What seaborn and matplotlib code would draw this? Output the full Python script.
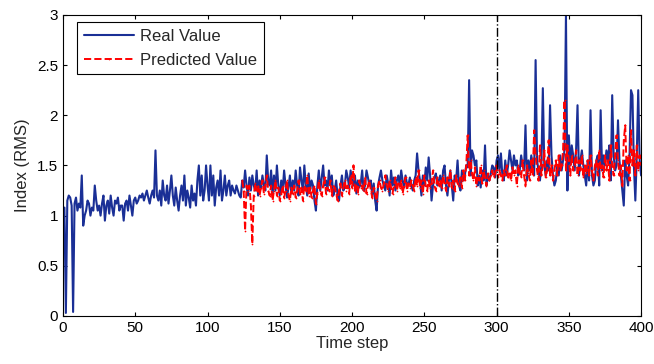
import numpy as np
import pandas as pd
import seaborn as sns
from matplotlib import pyplot as plt
from matplotlib.ticker import FormatStrFormatter

# real series, time steps 1..400
real_value = [
    1.08, 0.03, 1.15, 1.20, 1.18, 1.10, 0.04, 1.12, 1.18, 1.05, 1.12, 1.08, 1.40, 0.90, 1.00, 1.05, 1.15, 1.12, 1.00, 1.08,
    1.05, 1.30, 1.15, 1.05, 1.10, 1.00, 1.12, 1.20, 0.95, 1.10, 1.15, 1.02, 1.20, 1.08, 1.00, 1.15, 1.12, 1.18, 1.05, 1.10,
    1.10, 0.95, 1.12, 1.15, 1.05, 1.20, 1.10, 1.00, 1.15, 1.18, 1.12, 1.15, 1.20, 1.18, 1.22, 1.15, 1.20, 1.25, 1.18, 1.12,
    1.20, 1.25, 1.18, 1.65, 1.20, 1.15, 1.25, 1.10, 1.35, 1.20, 1.15, 1.30, 1.12, 1.25, 1.40, 1.20, 1.10, 1.28, 1.15, 1.05,
    1.20, 1.30, 1.15, 1.40, 1.10, 1.25, 1.18, 1.08, 1.30, 1.15, 1.22, 1.10, 1.35, 1.50, 1.20, 1.40, 1.15, 1.25, 1.50, 1.30,
    1.15, 1.50, 1.20, 1.40, 1.10, 1.28, 1.35, 1.20, 1.45, 1.15, 1.25, 1.40, 1.20, 1.30, 1.35, 1.20, 1.30, 1.25, 1.22, 1.30,
    1.25, 1.20, 1.18, 1.35, 1.28, 1.45, 1.30, 1.20, 1.38, 1.25, 1.40, 1.30, 1.25, 1.45, 1.20, 1.35, 1.28, 1.40, 1.30, 1.25,
    1.60, 1.35, 1.30, 1.45, 1.20, 1.40, 1.25, 1.50, 1.30, 1.20, 1.35, 1.25, 1.45, 1.30, 1.18, 1.28, 1.40, 1.22, 1.35, 1.25,
    1.45, 1.30, 1.20, 1.48, 1.35, 1.25, 1.50, 1.30, 1.20, 1.42, 1.25, 1.35, 1.30, 1.15, 1.05, 1.30, 1.45, 1.25, 1.38, 1.50,
    1.30, 1.35, 1.25, 1.45, 1.30, 1.40, 1.20, 1.25, 1.35, 1.20, 1.15, 1.30, 1.40, 1.25, 1.30, 1.45, 1.38, 1.28, 1.45, 1.35,
    1.30, 1.40, 1.22, 1.35, 1.28, 1.32, 1.45, 1.25, 1.30, 1.45, 1.38, 1.30, 1.35, 1.20, 1.32, 1.15, 1.05, 1.30, 1.38, 1.45,
    1.35, 1.30, 1.25, 1.40, 1.32, 1.20, 1.45, 1.30, 1.38, 1.25, 1.35, 1.40, 1.30, 1.45, 1.35, 1.28, 1.40, 1.32, 1.30, 1.38,
    1.30, 1.25, 1.35, 1.40, 1.62, 1.45, 1.35, 1.20, 1.40, 1.30, 1.48, 1.35, 1.58, 1.40, 1.15, 1.30, 1.38, 1.42, 1.30, 1.35,
    1.40, 1.25, 1.45, 1.50, 1.30, 1.20, 1.35, 1.45, 1.30, 1.15, 1.40, 1.35, 1.55, 1.30, 1.25, 1.45, 1.35, 1.40, 1.50, 1.48,
    2.35, 1.40, 1.65, 1.60, 1.50, 1.55, 1.30, 1.40, 1.28, 1.45, 1.35, 1.70, 1.30, 1.40, 1.35, 1.42, 1.50, 1.48, 1.38, 1.55,
    1.60, 1.45, 1.62, 1.40, 1.35, 1.55, 1.40, 1.50, 1.65, 1.55, 1.45, 1.60, 1.50, 1.55, 1.40, 1.45, 1.60, 1.50, 1.45, 1.90,
    1.35, 1.55, 1.45, 1.60, 1.50, 1.40, 2.55, 1.55, 1.45, 1.35, 1.50, 2.27, 1.50, 1.40, 1.55, 1.45, 2.10, 1.60, 1.40, 1.30,
    1.35, 1.50, 1.40, 1.60, 1.45, 1.55, 1.65, 3.00, 1.25, 1.80, 1.50, 1.70, 1.60, 1.45, 1.65, 2.10, 1.40, 1.55, 1.65, 1.50,
    1.40, 1.30, 1.55, 1.35, 2.05, 1.40, 1.30, 1.35, 1.55, 1.60, 1.30, 2.05, 1.45, 1.60, 1.50, 1.65, 1.55, 1.70, 1.35, 2.20,
    1.60, 1.45, 1.50, 1.95, 1.55, 1.40, 1.25, 1.10, 1.55, 1.40, 1.30, 1.60, 2.25, 2.20, 1.50, 1.15, 1.60, 2.25, 1.55, 1.40,
]

# predicted series, time steps 124..400
pred_start = 124
predicted_value = [
    1.35, 1.25, 0.85, 1.30, 1.25, 1.30, 1.10, 0.72, 1.20, 1.32, 1.25, 1.30, 1.20, 1.28, 1.35, 1.22, 1.30, 1.40, 1.25, 1.20,
    1.30, 1.15, 1.25, 1.35, 1.20, 1.28, 1.15, 1.22, 1.30, 1.18, 1.25, 1.35, 1.20, 1.15, 1.28, 1.22, 1.30, 1.18, 1.25, 1.35,
    1.22, 1.28, 1.15, 1.30, 1.25, 1.40, 1.20, 1.28, 1.18, 1.25, 1.30, 1.12, 1.22, 1.35, 1.25, 1.20, 1.30, 1.38, 1.22, 1.28,
    1.25, 1.35, 1.20, 1.30, 1.28, 1.22, 1.15, 1.25, 1.32, 1.20, 1.28, 1.35, 1.25, 1.30, 1.22, 1.40, 1.28, 1.50, 1.25, 1.30,
    1.22, 1.35, 1.28, 1.30, 1.25, 1.38, 1.22, 1.30, 1.35, 1.25, 1.18, 1.28, 1.22, 1.15, 1.30, 1.35, 1.28, 1.25, 1.32, 1.40,
    1.30, 1.25, 1.35, 1.28, 1.22, 1.30, 1.38, 1.25, 1.32, 1.28, 1.35, 1.22, 1.30, 1.38, 1.25, 1.32, 1.28, 1.35, 1.30, 1.25,
    1.38, 1.30, 1.45, 1.28, 1.35, 1.22, 1.40, 1.30, 1.25, 1.35, 1.28, 1.32, 1.45, 1.30, 1.25, 1.38, 1.30, 1.35, 1.28, 1.40,
    1.32, 1.25, 1.38, 1.30, 1.45, 1.28, 1.35, 1.25, 1.40, 1.32, 1.30, 1.38, 1.28, 1.45, 1.35, 1.50, 1.80, 1.40, 1.55, 1.42,
    1.35, 1.48, 1.30, 1.40, 1.35, 1.50, 1.32, 1.45, 1.38, 1.30, 1.42, 1.35, 1.40, 1.45, 1.38, 1.42, 1.50, 1.38, 1.45, 1.40,
    1.35, 1.45, 1.40, 1.50, 1.38, 1.42, 1.35, 1.48, 1.40, 1.45, 1.30, 1.50, 1.42, 1.38, 1.55, 1.40, 1.30, 1.50, 1.42, 1.35,
    1.55, 1.40, 1.85, 1.60, 1.45, 1.35, 1.70, 1.40, 1.50, 1.65, 1.38, 1.45, 1.75, 1.40, 1.50, 1.35, 1.45, 1.55, 1.40, 1.60,
    1.45, 1.50, 1.65, 2.15, 1.45, 1.70, 1.55, 1.40, 1.60, 1.45, 1.50, 1.65, 1.40, 1.55, 1.45, 1.60, 1.38, 1.50, 1.42, 1.55,
    1.40, 1.60, 1.45, 1.35, 1.50, 1.55, 1.40, 1.65, 1.45, 1.50, 1.38, 1.60, 1.45, 1.55, 1.35, 1.70, 1.50, 1.40, 1.60, 1.80,
    1.55, 1.40, 1.50, 1.30, 1.75, 1.90, 1.45, 1.60, 1.35, 1.85, 1.50, 1.65, 1.40, 1.70, 1.45, 1.60, 1.50,
]

split_step = 300
x_ticks = [0, 50, 100, 150, 200, 250, 300, 350, 400]
y_ticks = [0, 0.5, 1, 1.5, 2, 2.5, 3]

df_real = pd.DataFrame({'step': np.arange(1, len(real_value) + 1), 'value': real_value})
df_pred = pd.DataFrame({'step': np.arange(pred_start, pred_start + len(predicted_value)), 'value': predicted_value})

sns.set_style('ticks')
plt.rcParams['font.family'] = ['Liberation Sans', 'DejaVu Sans']

fig = plt.figure(figsize=(6.54, 3.64), dpi=100)
ax = fig.add_axes([0.0963, 0.132, 0.884, 0.827])

sns.lineplot(x='step', y='value', data=df_real, ax=ax, color='#1a2f96', linewidth=1.5,
             label='Real Value')
sns.lineplot(x='step', y='value', data=df_pred, ax=ax, color='#ff0000', linewidth=1.4,
             linestyle='--', marker='.', markersize=2.5, markeredgewidth=0, label='Predicted Value')
ax.axvline(split_step, color='black', linestyle='-.', linewidth=1)

ax.set_xlim(0, 400)
ax.set_ylim(0, 3)
ax.set_xticks(x_ticks)
ax.set_yticks(y_ticks)
ax.yaxis.set_major_formatter(FormatStrFormatter('%g'))
ax.tick_params(direction='in', top=True, right=True, labelsize=11, length=3, width=0.8, colors='black')
for s in ax.spines.values():
    s.set_visible(True)
    s.set_color('black')
    s.set_linewidth(0.8)

ax.set_xlabel('Time step', fontsize=12, labelpad=1)
ax.set_ylabel('Index (RMS)', fontsize=12, labelpad=5)

leg = ax.legend(loc='upper left', bbox_to_anchor=(0.024, 0.977), borderaxespad=0, fontsize=12,
                fancybox=False, framealpha=1, edgecolor='black', handlelength=3.0, borderpad=0.4,
                labelspacing=0.55, handletextpad=0.4)
leg.get_frame().set_linewidth(0.8)

fig.savefig('out.png', dpi=100)
